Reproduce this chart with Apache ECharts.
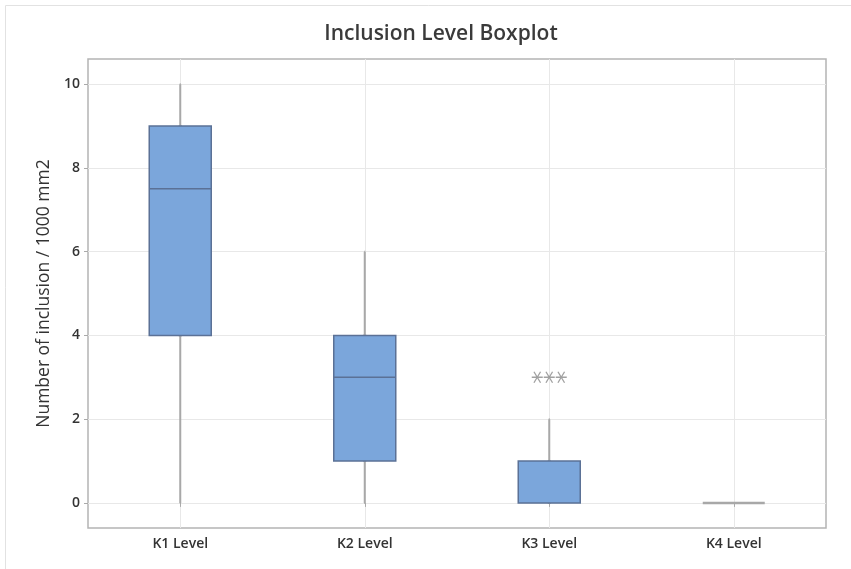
<!DOCTYPE html>
<html>
<head>
<meta charset="utf-8">
<script src="https://cdn.jsdelivr.net/npm/echarts@6/dist/echarts.min.js"></script>
<style>html,body{margin:0;padding:0;background:#fff}#c{width:851px;height:569px}</style>
</head>
<body>
<div id="c"></div>
<script>
var categories = ['K1 Level', 'K2 Level', 'K3 Level', 'K4 Level'];
var mins    = [0, 0, 0, 0];
var q1s     = [4, 1, 0, 0];
var medians = [7.5, 3, 0, 0];
var q3s     = [9, 4, 1, 0];
var maxs    = [10, 6, 2, 0];
var outlierCategory = 'K3 Level';
var outlierValues = [3, 3, 3];
var yTicks = [0, 2, 4, 6, 8, 10];

var whiskerData = categories.map(function (c, i) {
  return [mins[i], q1s[i], medians[i], q3s[i], maxs[i]];
});
var boxData = categories.map(function (c, i) {
  var item = { value: [q1s[i], q1s[i], medians[i], q3s[i], q3s[i]] };
  if (q1s[i] === q3s[i]) {
    item.itemStyle = { color: 'none', borderColor: '#a8a8a8', borderWidth: 2.5 };
  }
  return item;
});
var outlierData = outlierValues.map(function (v, k) {
  return { value: [outlierCategory, v], symbolOffset: [(k - (outlierValues.length - 1) / 2) * 12, 0] };
});

var chart = echarts.init(document.getElementById('c'), null, { renderer: 'canvas' });
var FONT = '"Open Sans", "Noto Sans", sans-serif';
chart.setOption({
  animation: false,
  backgroundColor: '#fff',
  title: {
    text: 'Inclusion Level Boxplot',
    left: 436, top: 19, textAlign: 'center',
    textStyle: { fontFamily: FONT, fontSize: 21, fontWeight: 600, color: '#3a3a3a' }
  },
  graphic: [{
    type: 'rect', shape: { x: 5.5, y: 5.5, width: 900, height: 700 },
    style: { fill: 'none', stroke: '#e2e2e2', lineWidth: 1 }, silent: true
  }],
  grid: {
    left: 88, right: 25, top: 59, bottom: 41,
    show: true, borderColor: '#b4b4b4', borderWidth: 1.5
  },
  xAxis: [{
    type: 'category', data: categories, boundaryGap: true,
    axisLine: { show: false },
    axisTick: { show: true, alignWithLabel: true, length: 4, lineStyle: { color: '#aaa' } },
    axisLabel: { fontFamily: FONT, fontSize: 14, fontWeight: 600, color: '#333', margin: 9 },
    splitLine: { show: true, alignWithLabel: true, lineStyle: { color: '#e8e8e8', width: 1 } }
  }, {
    type: 'category', data: categories, boundaryGap: true, show: false
  }],
  yAxis: {
    type: 'value', min: -0.6, max: 10.6,
    name: 'Number of inclusion / 1000 mm2',
    nameLocation: 'middle', nameGap: 31, nameRotate: 90,
    nameTextStyle: { fontFamily: FONT, fontSize: 17.5, color: '#333' },
    axisLine: { show: false },
    axisTick: { show: true, length: 4, customValues: yTicks, lineStyle: { color: '#aaa' } },
    axisLabel: { fontFamily: FONT, fontSize: 14, fontWeight: 600, color: '#333', margin: 8, customValues: yTicks },
    splitLine: { show: true, lineStyle: { color: '#e8e8e8', width: 1 } }
  },
  series: [{
    type: 'boxplot', xAxisIndex: 0, data: whiskerData, boxWidth: [1, 1],
    itemStyle: { color: '#a8a8a8', borderColor: '#a8a8a8', borderWidth: 2 },
    z: 2
  }, {
    type: 'boxplot', xAxisIndex: 1, data: boxData, boxWidth: [62, 62],
    itemStyle: { color: '#7ba6db', borderColor: '#5b7196', borderWidth: 1.5 },
    z: 3
  }, {
    type: 'scatter', xAxisIndex: 0, data: outlierData,
    symbol: 'path://M0,5L10,5M2,0.5L8,9.5M2,9.5L8,0.5', symbolSize: 11,
    itemStyle: { color: 'none', borderColor: '#8a8a8a', borderWidth: 1.3 },
    z: 4
  }]
});
</script>
</body>
</html>
